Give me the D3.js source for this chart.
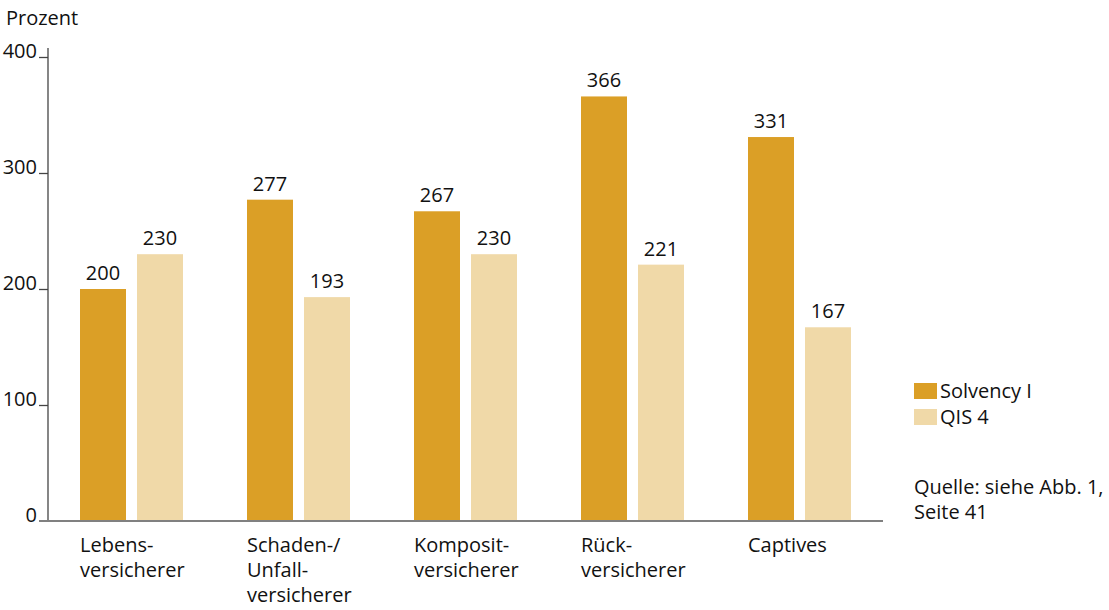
<!DOCTYPE html>
<meta charset="utf-8">
<script src="https://d3js.org/d3.v7.min.js"></script>
<style>
  body { margin: 0; background: #fff; }
  svg text { font-family: "Open Sans", sans-serif; fill: #111; }
</style>
<div id="chart"></div>
<script>
    var categories = [["Lebens-", "versicherer"], ["Schaden-/", "Unfall-", "versicherer"],
                      ["Komposit-", "versicherer"], ["Rück-", "versicherer"], ["Captives"]];
    var series = ["Solvency I", "QIS 4"];
    var solvency = [200, 277, 267, 366, 331];
    var qis4 = [230, 193, 230, 221, 167];
    var yTicks = [0, 100, 200, 300, 400];
    var colors = ["#DB9F26", "#F0D9A8"];

    var width = 1109, height = 610;
    var fs = "20px";
    var svg = d3.select("#chart").append("svg")
        .attr("width", width)
        .attr("height", height);

    var keys = categories.map(function(c, i) { return "c" + i; });
    var x0 = d3.scaleBand().domain(keys).range([48, 883]);
    var x1 = d3.scaleBand().domain(series).range([32, 135]).paddingInner(11 / 57);
    var y = d3.scaleLinear().domain([0, 400]).range([521, 57]);

    // y axis
    var yAxis = svg.append("g")
        .attr("transform", "translate(48,0)")
        .call(d3.axisLeft(y).tickValues(yTicks).tickSize(9).tickPadding(2));
    yAxis.select(".domain").remove();
    yAxis.selectAll("line").attr("stroke", "#444").attr("stroke-width", 1.3);
    yAxis.selectAll("text")
        .attr("dy", "0")
        .style("font-size", fs)
        .style("font-family", "'Open Sans', sans-serif")
        .attr("fill", "#111");
    yAxis.selectAll(".tick").filter(function(d) { return d === 0; }).select("line").remove();

    svg.append("line")
        .attr("x1", 48).attr("x2", 48)
        .attr("y1", y(0)).attr("y2", y(400) - 9)
        .attr("stroke", "#444").attr("stroke-width", 1.3);

    svg.append("text")
        .attr("x", 6).attr("y", 25)
        .style("font-size", fs)
        .text("Prozent");

    var rows = keys.map(function(k, i) {
        return {key: k, values: [{s: series[0], v: solvency[i]}, {s: series[1], v: qis4[i]}]};
    });

    var groups = svg.append("g").selectAll("g")
        .data(rows).enter().append("g")
        .attr("transform", function(d) { return "translate(" + x0(d.key) + ",0)"; });

    groups.selectAll("rect")
        .data(function(d) { return d.values; }).enter().append("rect")
        .attr("x", function(d) { return x1(d.s); })
        .attr("width", x1.bandwidth())
        .attr("y", function(d) { return y(d.v); })
        .attr("height", function(d) { return y(0) - y(d.v); })
        .attr("fill", function(d, i) { return colors[i]; });

    groups.selectAll("text.val")
        .data(function(d) { return d.values; }).enter().append("text")
        .attr("class", "val")
        .attr("x", function(d) { return x1(d.s) + x1.bandwidth() / 2; })
        .attr("y", function(d) { return y(d.v) - 9; })
        .attr("text-anchor", "middle")
        .style("font-size", fs)
        .text(function(d) { return d.v; });

    // baseline
    svg.append("line")
        .attr("x1", 39).attr("x2", 883)
        .attr("y1", y(0)).attr("y2", y(0))
        .attr("stroke", "#808080").attr("stroke-width", 2);

    // category labels
    groups.append("text")
        .attr("y", 552)
        .style("font-size", fs)
        .selectAll("tspan")
        .data(function(d, i) { return categories[i]; }).enter().append("tspan")
        .attr("x", x1(series[0]))
        .attr("dy", function(d, i) { return i === 0 ? 0 : 25; })
        .text(function(d) { return d; });

    // legend
    var legend = svg.append("g").attr("transform", "translate(914,383)");
    series.forEach(function(s, i) {
        legend.append("rect")
            .attr("x", 0).attr("y", i * 26)
            .attr("width", 23).attr("height", 16)
            .attr("fill", colors[i]);
        legend.append("text")
            .attr("x", 26).attr("y", i * 26 + 15)
            .style("font-size", fs)
            .text(s);
    });

    svg.append("text")
        .attr("x", 914).attr("y", 494)
        .style("font-size", fs)
        .selectAll("tspan")
        .data(["Quelle: siehe Abb. 1,", "Seite 41"]).enter().append("tspan")
        .attr("x", 914)
        .attr("dy", function(d, i) { return i === 0 ? 0 : 25; })
        .text(function(d) { return d; });
</script>
